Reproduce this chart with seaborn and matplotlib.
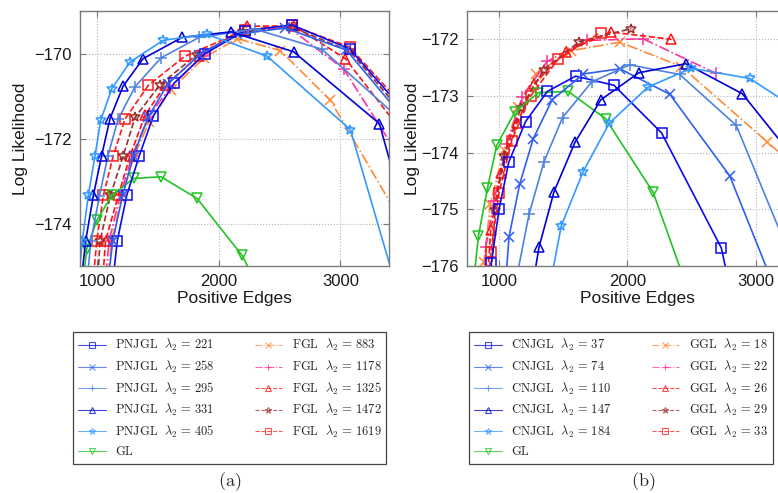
import matplotlib
matplotlib.use("Agg")
import matplotlib.pyplot as plt
import seaborn as sns
from matplotlib.lines import Line2D

# ---------------- data: panel (a) ----------------
pnjgl_221_x = [1120, 1167, 1244, 1348, 1463, 1636, 1889, 2218, 2602, 3077, 3600]
pnjgl_221_y = [-175.6, -174.4, -173.34, -172.4, -171.47, -170.69, -170.0, -169.46, -169.33, -169.89, -171.6]
pnjgl_258_x = [1080, 1130, 1210, 1300, 1420, 1580, 1840, 2150, 2547, 3050, 3600]
pnjgl_258_y = [-175.6, -174.4, -173.34, -172.4, -171.5, -170.72, -170.03, -169.55, -169.40, -169.92, -171.8]
pnjgl_295_x = [910, 950, 1020, 1090, 1173, 1313, 1527, 1840, 2301, 2849, 3550]
pnjgl_295_y = [-175.6, -174.4, -173.35, -172.4, -171.55, -170.78, -170.1, -169.62, -169.43, -169.9, -171.7]
pnjgl_331_x = [860, 907, 970, 1038, 1107, 1214, 1379, 1700, 2101, 2616, 3321, 3550]
pnjgl_331_y = [-175.6, -174.4, -173.34, -172.4, -171.53, -170.77, -170.12, -169.62, -169.49, -169.96, -171.65, -174.0]
pnjgl_405_x = [840, 879, 928, 984, 1030, 1121, 1272, 1543, 1904, 2397, 3082, 3450]
pnjgl_405_y = [-175.6, -174.4, -173.34, -172.4, -171.57, -170.83, -170.2, -169.69, -169.55, -170.06, -171.79, -175.4]
gl_a_x = [880, 915, 1000, 1121, 1301, 1526, 1822, 2192, 2500]
gl_a_y = [-175.5, -174.6, -173.92, -173.34, -172.94, -172.90, -173.41, -174.75, -176.5]
fgl_883_x = [1080, 1120, 1200, 1300, 1430, 1610, 1880, 2152, 2506, 2918, 3450]
fgl_883_y = [-175.6, -174.4, -173.4, -172.45, -171.6, -170.85, -170.1, -169.65, -169.93, -171.1, -173.7]
fgl_1178_x = [1060, 1100, 1190, 1290, 1420, 1600, 1870, 2200, 2580, 3027, 3500]
fgl_1178_y = [-175.6, -174.4, -173.34, -172.4, -171.5, -170.8, -170.05, -169.45, -169.4, -170.36, -172.5]
fgl_1325_x = [1040, 1070, 1175, 1272, 1395, 1560, 1840, 2232, 2616, 3041, 3550]
fgl_1325_y = [-175.6, -174.4, -173.34, -172.4, -171.45, -170.75, -170.05, -169.36, -169.35, -170.12, -172.0]
fgl_1472_x = [1000, 1025, 1110, 1216, 1313, 1519, 1820, 2200, 2600, 3080, 3600]
fgl_1472_y = [-175.6, -174.4, -173.34, -172.4, -171.5, -170.73, -170.03, -169.5, -169.38, -169.95, -171.7]
fgl_1619_x = [960, 998, 1052, 1134, 1230, 1422, 1719, 2219, 2602, 3077, 3600]
fgl_1619_y = [-175.6, -174.4, -173.34, -172.4, -171.54, -170.75, -170.07, -169.45, -169.34, -169.85, -171.5]

# ---------------- data: panel (b) ----------------
cnjgl_37_x = [925, 940, 1000, 1075, 1207, 1376, 1596, 1895, 2266, 2732, 2810]
cnjgl_37_y = [-176.6, -175.94, -175.0, -174.17, -173.45, -172.92, -172.65, -172.81, -173.65, -175.68, -176.5]
cnjgl_74_x = [1040, 1078, 1160, 1267, 1413, 1658, 1942, 2331, 2798, 3150]
cnjgl_74_y = [-176.6, -175.48, -174.56, -173.75, -173.07, -172.61, -172.52, -172.97, -174.41, -176.4]
cnjgl_110_x = [1120, 1233, 1350, 1495, 1723, 2019, 2408, 2849, 3250]
cnjgl_110_y = [-176.4, -175.09, -174.16, -173.38, -172.75, -172.45, -172.62, -173.52, -175.72]
cnjgl_147_x = [1265, 1311, 1428, 1591, 1792, 2089, 2455, 2896, 3300]
cnjgl_147_y = [-176.3, -175.67, -174.69, -173.82, -173.07, -172.59, -172.43, -172.96, -174.1]
cnjgl_184_x = [1400, 1485, 1654, 1859, 2162, 2499, 2953, 3300]
cnjgl_184_y = [-176.3, -175.29, -174.34, -173.48, -172.84, -172.51, -172.69, -173.2]
gl_b_x = [800, 839, 909, 982, 1124, 1306, 1539, 1830, 2201, 2500]
gl_b_y = [-176.3, -175.47, -174.63, -173.87, -173.28, -172.94, -172.92, -173.40, -174.70, -176.6]
ggl_18_x = [870, 883, 932, 1040, 1150, 1284, 1560, 1942, 2421, 3090, 3400]
ggl_18_y = [-176.3, -175.93, -174.9, -173.95, -173.2, -172.61, -172.2, -172.05, -172.48, -173.81, -174.43]
ggl_22_x = [885, 897, 960, 1060, 1181, 1374, 1684, 2123, 2689]
ggl_22_y = [-176.3, -175.66, -174.85, -173.85, -173.01, -172.39, -172.02, -171.99, -172.6]
ggl_26_x = [905, 935, 1013, 1142, 1272, 1518, 1869, 2343]
ggl_26_y = [-176.4, -175.36, -174.35, -173.47, -172.79, -172.22, -171.87, -172.0]
ggl_29_x = [930, 969, 1039, 1168, 1348, 1625, 2032]
ggl_29_y = [-176.4, -175.01, -174.05, -173.22, -172.54, -172.04, -171.81]
ggl_33_x = [915, 935, 1000, 1098, 1246, 1461, 1791]
ggl_33_y = [-176.5, -175.76, -174.71, -173.79, -173.0, -172.35, -171.88]

labels_a = [r"$\mathrm{PNJGL}\ \ \lambda_2\, =\, 221$", r"$\mathrm{PNJGL}\ \ \lambda_2\, =\, 258$",
            r"$\mathrm{PNJGL}\ \ \lambda_2\, =\, 295$", r"$\mathrm{PNJGL}\ \ \lambda_2\, =\, 331$",
            r"$\mathrm{PNJGL}\ \ \lambda_2\, =\, 405$", r"$\mathrm{GL}$",
            r"$\mathrm{FGL}\ \ \lambda_2\, =\, 883$", r"$\mathrm{FGL}\ \ \lambda_2\, =\, 1178$",
            r"$\mathrm{FGL}\ \ \lambda_2\, =\, 1325$", r"$\mathrm{FGL}\ \ \lambda_2\, =\, 1472$",
            r"$\mathrm{FGL}\ \ \lambda_2\, =\, 1619$"]
labels_b = [r"$\mathrm{CNJGL}\ \ \lambda_2\, =\, 37$", r"$\mathrm{CNJGL}\ \ \lambda_2\, =\, 74$",
            r"$\mathrm{CNJGL}\ \ \lambda_2\, =\, 110$", r"$\mathrm{CNJGL}\ \ \lambda_2\, =\, 147$",
            r"$\mathrm{CNJGL}\ \ \lambda_2\, =\, 184$", r"$\mathrm{GL}$",
            r"$\mathrm{GGL}\ \ \lambda_2\, =\, 18$", r"$\mathrm{GGL}\ \ \lambda_2\, =\, 22$",
            r"$\mathrm{GGL}\ \ \lambda_2\, =\, 26$", r"$\mathrm{GGL}\ \ \lambda_2\, =\, 29$",
            r"$\mathrm{GGL}\ \ \lambda_2\, =\, 33$"]

x_ticks_a = [1000, 2000, 3000]
y_ticks_a = [-174, -172, -170]
x_ticks_b = [1000, 2000, 3000]
y_ticks_b = [-176, -175, -174, -173, -172]

# ---------------- styles ----------------
styles = [  # color, marker, linestyle, markersize
    ("#0a0af0", "s", "-", 6.5),
    ("#2f5fee", "x", "-", 6.5),
    ("#4f82e0", "+", "-", 8),
    ("#0000d8", "^", "-", 7.5),
    ("#3399ff", "*", "-", 7.5),
    ("#22c322", "v", "-", 7.5),
    ("#ff8a3a", "x", "-.", 6.5),
    ("#ff3399", "+", "-.", 8),
    ("#ff1111", "^", "--", 7.5),
    ("#9b3030", "*", "--", 7.5),
    ("#ff1a1a", "s", "--", 6.5),
]

series_a = [(pnjgl_221_x, pnjgl_221_y), (pnjgl_258_x, pnjgl_258_y), (pnjgl_295_x, pnjgl_295_y),
            (pnjgl_331_x, pnjgl_331_y), (pnjgl_405_x, pnjgl_405_y), (gl_a_x, gl_a_y),
            (fgl_883_x, fgl_883_y), (fgl_1178_x, fgl_1178_y), (fgl_1325_x, fgl_1325_y),
            (fgl_1472_x, fgl_1472_y), (fgl_1619_x, fgl_1619_y)]
series_b = [(cnjgl_37_x, cnjgl_37_y), (cnjgl_74_x, cnjgl_74_y), (cnjgl_110_x, cnjgl_110_y),
            (cnjgl_147_x, cnjgl_147_y), (cnjgl_184_x, cnjgl_184_y), (gl_b_x, gl_b_y),
            (ggl_18_x, ggl_18_y), (ggl_22_x, ggl_22_y), (ggl_26_x, ggl_26_y),
            (ggl_29_x, ggl_29_y), (ggl_33_x, ggl_33_y)]

sns.set_theme(style="white")
plt.rcParams["font.family"] = ["Liberation Sans", "DejaVu Sans"]
plt.rcParams["mathtext.fontset"] = "cm"
plt.rcParams["axes.unicode_minus"] = True

W, H = 778, 493
fig = plt.figure(figsize=(W / 100, H / 100), dpi=100)
axA = fig.add_axes([80 / W, 1 - 266 / H, 309 / W, 255 / H])
axB = fig.add_axes([467 / W, 1 - 266 / H, 340 / W, 255 / H])

order = [6, 7, 8, 9, 10, 5, 0, 1, 2, 3, 4]


def draw(ax, series, xlim, ylim, xt, yt, ylabelpad):
    for i in order:
        xs, ys = series[i]
        c, m, ls, ms = styles[i]
        sns.lineplot(x=xs, y=ys, ax=ax, sort=False, estimator=None, color=c,
                     marker=m, markersize=ms, markerfacecolor="none",
                     markeredgecolor=c, markeredgewidth=1.1, linewidth=1.2,
                     linestyle=ls, legend=False)
    ax.set_xlim(*xlim)
    ax.set_ylim(*ylim)
    ax.set_xticks(xt)
    ax.set_yticks(yt)
    ax.grid(True, linestyle=":", color="#b5b5b5", linewidth=0.8)
    for s in ax.spines.values():
        s.set_color("#7a7a7a")
        s.set_linewidth(1.0)
    ax.tick_params(direction="in", length=4, width=0.8, color="#7a7a7a",
                   top=True, right=True, bottom=True, left=True,
                   labelsize=12, labelcolor="#1a1a1a", pad=6)
    ax.set_xlabel("Positive Edges", fontsize=12.5, color="#1a1a1a", labelpad=1)
    ax.set_ylabel("Log Likelihood", fontsize=12.5, color="#1a1a1a", labelpad=ylabelpad)


draw(axA, series_a, (860, 3400), (-175, -169), x_ticks_a, y_ticks_a, 4)
draw(axB, series_b, (750, 3400), (-176, -171.5), x_ticks_b, y_ticks_b, 1)


def make_legend(labels, x0):
    handles = []
    for i in range(11):
        c, m, ls, ms = styles[i]
        handles.append(Line2D([], [], color=c, marker=m, linestyle=ls, markersize=4.5,
                              markerfacecolor="none", markeredgecolor=c,
                              markeredgewidth=0.8, linewidth=0.8, alpha=0.75))
    leg = fig.legend(handles, labels, loc="upper left",
                     bbox_to_anchor=(x0 / W, 1 - 332 / H),
                     ncol=2, frameon=True, fancybox=False,
                     edgecolor="#444444", framealpha=1, fontsize=9,
                     handlelength=2.2, handletextpad=0.75, labelspacing=0.44,
                     columnspacing=3.2, borderaxespad=0, borderpad=0.42)
    leg.get_frame().set_linewidth(0.9)
    return leg


make_legend(labels_a, 73)
make_legend(labels_b, 469)

fig.text(230 / W, 1 - 482 / H, r"$\mathrm{(a)}$", ha="center", va="center", fontsize=13)
fig.text(643 / W, 1 - 482 / H, r"$\mathrm{(b)}$", ha="center", va="center", fontsize=13)

fig.savefig("out.png", dpi=100)
